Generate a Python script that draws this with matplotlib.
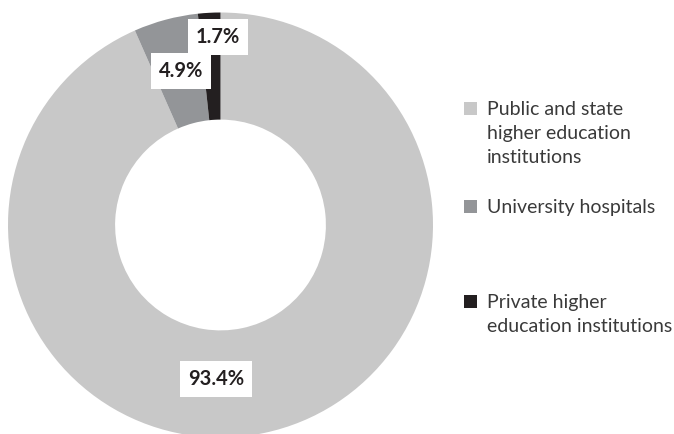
import matplotlib
matplotlib.use("Agg")
import matplotlib.pyplot as plt
from matplotlib.patches import Rectangle

# Share of funding by type of institution (%)
categories = ["Public and state\nhigher education\ninstitutions",
              "University hospitals",
              "Private higher\neducation institutions"]
shares = [93.4, 4.9, 1.7]
colors = ["#c8c8c8", "#939598", "#231f20"]
value_labels = ["93.4%", "4.9%", "1.7%"]

# label anchors inside the ring (axes data units, ring radius = 1)
label_pos = [(-0.02, -0.725), (-0.185, 0.725), (-0.012, 0.885)]
# legend rows: top of each swatch, in pixels from the top of the figure
legend_top = [102, 200, 295]

W, H = 674, 434
fig = plt.figure(figsize=(W / 100, H / 100), dpi=100)

cx, cy, R = 220.5, 225.0, 212.5
ax = fig.add_axes([(cx - R) / W, (H - cy - R) / H, 2 * R / W, 2 * R / H])
ax.pie(shares, colors=colors, startangle=90, counterclock=False, radius=1,
       wedgeprops=dict(width=0.504, linewidth=0))
ax.set_xlim(-1, 1)
ax.set_ylim(-1, 1)
ax.set_aspect("equal")
ax.axis("off")

for (x, y), txt in zip(label_pos, value_labels):
    ax.text(x, y, txt, ha="center", va="center", fontsize=14.5, fontweight="bold",
            family="Lato", color="#231f20",
            bbox=dict(boxstyle="square,pad=0.4", fc="white", ec="none"))

# hand-placed legend so the swatch lines up with the first text line
sq = 13
for top, lab, col in zip(legend_top, categories, colors):
    fig.patches.append(Rectangle((464 / W, (H - top - sq) / H), sq / W, sq / H,
                                 transform=fig.transFigure, fc=col, ec="none"))
    fig.text(487 / W, (H - top + 1) / H, lab, ha="left", va="top",
             fontsize=14, family="Lato", color="#3a3a3a", linespacing=1.5)

fig.savefig("out.png", dpi=100)
